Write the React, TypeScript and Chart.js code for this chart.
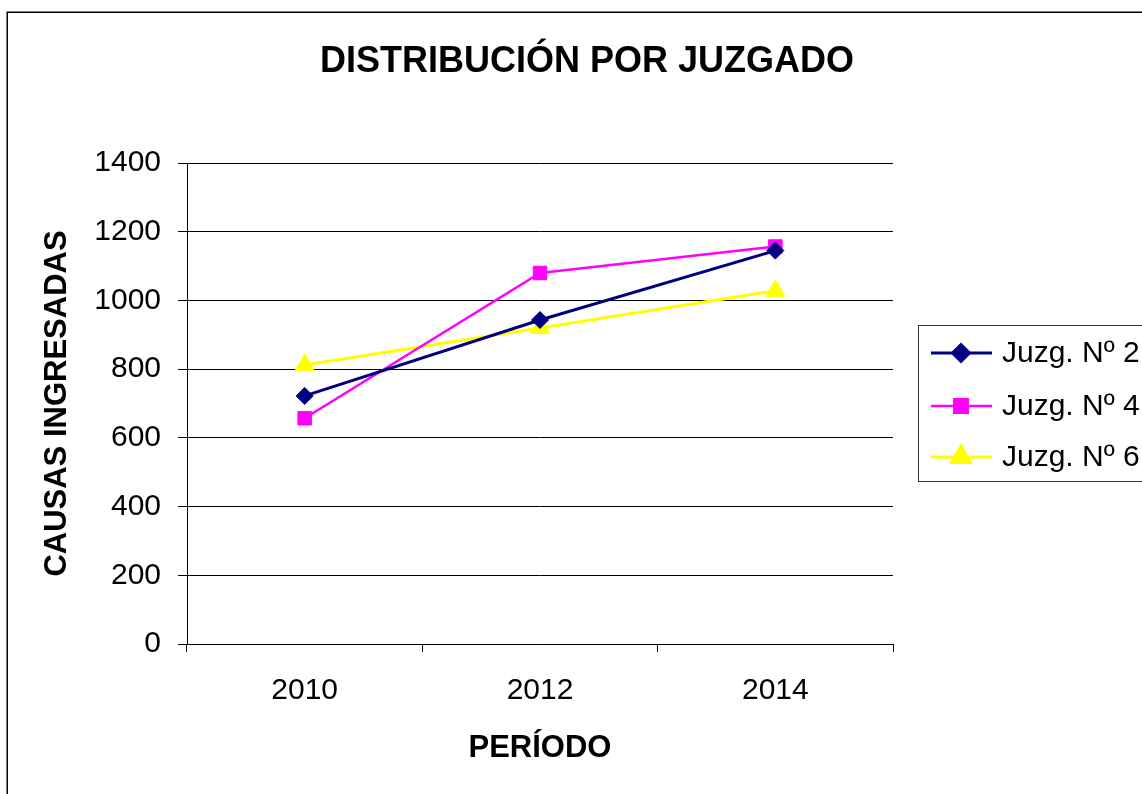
import React, { useEffect, useRef } from "react";
import { Chart, registerables } from "chart.js";
import { drawPoint } from "chart.js/helpers";

Chart.register(...registerables);

const categories = ["2010", "2012", "2014"];
const juzg2 = [722, 943, 1145];
const juzg4 = [657, 1080, 1157];
const juzg6 = [812, 920, 1028];
const seriesNames = ["Juzg. Nº 2", "Juzg. Nº 4", "Juzg. Nº 6"];
const yTicks = [0, 200, 400, 600, 800, 1000, 1200, 1400];
const chartTitle = "DISTRIBUCIÓN POR JUZGADO";

const FONT = "'Liberation Sans', Arial, sans-serif";

const framePlugin = {
  id: "frame",
  beforeDraw(chart: any) {
    const ctx = chart.ctx;
    ctx.save();
    ctx.fillStyle = "#ffffff";
    ctx.fillRect(0, 0, chart.width, chart.height);
    ctx.strokeStyle = "#000000";
    ctx.lineWidth = 1.5;
    ctx.strokeRect(7.25, 12.25, 2000, 2000);
    ctx.restore();
  },
  afterDraw(chart: any) {
    const ctx = chart.ctx;
    ctx.save();
    ctx.fillStyle = "#000000";
    ctx.font = `bold 36px ${FONT}`;
    ctx.textAlign = "center";
    ctx.textBaseline = "middle";
    ctx.fillText(chartTitle, 587, 62);
    ctx.restore();
  },
};

const legendPlugin = {
  id: "customLegend",
  afterDraw(chart: any) {
    const ctx = chart.ctx;
    ctx.save();
    ctx.strokeStyle = "#333333";
    ctx.lineWidth = 1;
    ctx.strokeRect(918.5, 325.5, 400, 156);
    const rows = [353, 406, 457];
    chart.data.datasets.forEach((ds: any, i: number) => {
      const y = rows[i];
      ctx.strokeStyle = ds.borderColor;
      ctx.lineWidth = ds.borderWidth;
      ctx.beginPath();
      ctx.moveTo(931, y);
      ctx.lineTo(992, y);
      ctx.stroke();
      ctx.fillStyle = ds.pointBackgroundColor;
      ctx.strokeStyle = ds.pointBorderColor;
      drawPoint(
        ctx,
        { pointStyle: ds.pointStyle, radius: ds.pointRadius, rotation: 0, borderWidth: 1 },
        961,
        y
      );
      ctx.fillStyle = "#000000";
      ctx.font = `30px ${FONT}`;
      ctx.textAlign = "left";
      ctx.textBaseline = "middle";
      ctx.fillText(ds.label, 1002, y + 1);
    });
    ctx.restore();
  },
};

export default function App() {
  const ref = useRef<HTMLCanvasElement>(null);
  useEffect(() => {
    document.body.style.margin = "0";
    const chart = new Chart(ref.current!, {
      type: "line",
      data: {
        labels: categories,
        datasets: [
          {
            label: seriesNames[0],
            data: juzg2,
            borderColor: "#000080",
            backgroundColor: "#000080",
            pointBackgroundColor: "#000080",
            pointBorderColor: "#000080",
            borderWidth: 3,
            pointStyle: "rectRot",
            pointRadius: 8.5,
            pointBorderWidth: 1,
          },
          {
            label: seriesNames[1],
            data: juzg4,
            borderColor: "#FF00FF",
            backgroundColor: "#FF00FF",
            pointBackgroundColor: "#FF00FF",
            pointBorderColor: "#FF00FF",
            borderWidth: 2.5,
            pointStyle: "rect",
            pointRadius: 9.5,
            pointBorderWidth: 1,
          },
          {
            label: seriesNames[2],
            data: juzg6,
            borderColor: "#FFFF00",
            backgroundColor: "#FFFF00",
            pointBackgroundColor: "#FFFF00",
            pointBorderColor: "#FFFF00",
            borderWidth: 3,
            pointStyle: "triangle",
            pointRadius: 11,
            pointBorderWidth: 1,
          },
        ],
      },
      options: {
        responsive: false,
        animation: false,
        layout: { padding: { left: 0, right: 249, top: 163, bottom: 0 } },
        plugins: {
          legend: { display: false },
          tooltip: { enabled: false },
          title: { display: false },
        },
        scales: {
          x: {
            type: "category",
            offset: true,
            grid: {
              display: true,
              drawOnChartArea: false,
              drawTicks: true,
              tickLength: 8,
              color: "#000000",
              offset: true,
            },
            border: { display: true, color: "#000000", width: 1 },
            ticks: {
              color: "#000000",
              font: { family: FONT, size: 30 },
              padding: 21,
              maxRotation: 0,
            },
            title: {
              display: true,
              text: "PERÍODO",
              color: "#000000",
              font: { family: FONT, size: 31, weight: "bold" },
              padding: { top: 0, bottom: 27 },
            },
            afterFit: (scale: any) => {
              scale.height = 150;
            },
          },
          y: {
            min: 0,
            max: 1400,
            afterBuildTicks: (scale: any) => {
              scale.ticks = yTicks.map((v) => ({ value: v }));
            },
            grid: {
              color: "#000000",
              lineWidth: 1,
              drawTicks: true,
              tickLength: 9,
            },
            border: { display: true, color: "#000000", width: 1 },
            ticks: {
              color: "#000000",
              font: { family: FONT, size: 30 },
              padding: 17,
              callback: (v: any) => String(v),
            },
            title: {
              display: true,
              text: "CAUSAS INGRESADAS",
              color: "#000000",
              font: { family: FONT, size: 31, weight: "bold" },
              padding: { top: 38.4, bottom: 0 },
            },
            afterFit: (scale: any) => {
              scale.width = 187;
            },
          },
        },
      },
      plugins: [framePlugin, legendPlugin],
    });
    return () => chart.destroy();
  }, []);
  return (
    <div style={{ width: 1142, height: 794 }}>
      <canvas ref={ref} width={1142} height={794} />
    </div>
  );
}
